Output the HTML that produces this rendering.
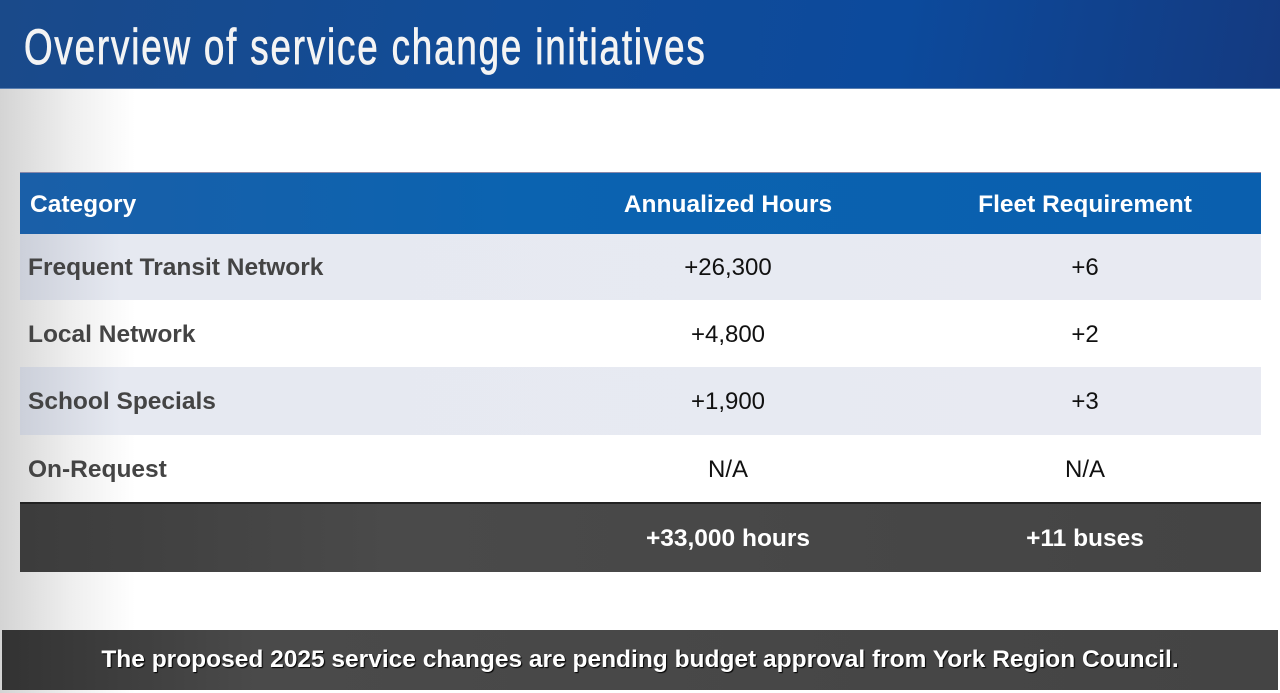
<!DOCTYPE html>
<html><head><style>
body{margin:0;width:1280px;height:693px;overflow:hidden;position:relative;font-family:"Liberation Sans",sans-serif;background:linear-gradient(90deg,#d4d4d4 0,#eee 70px,#fff 135px,#fff 100%);}
.hdr{position:absolute;left:0;top:0;width:1280px;height:88px;background:linear-gradient(100deg,#1a4a8a 0,#114c98 40%,#0c4a9c 70%,#143a80 100%);border-bottom:1px solid #5a7fb0}
.title{position:absolute;left:24px;top:18px;font-size:50px;color:#f4f4f4;white-space:nowrap;transform:scaleX(0.735);transform-origin:left top;letter-spacing:2.5px;-webkit-text-stroke:0.8px #f4f4f4}
.row{position:absolute;left:20px;width:1241px;font-size:24.5px;font-weight:bold}
.row div{position:absolute;top:1px;height:100%;display:flex;align-items:center}
.c1{left:8px}.c2{left:530px;width:356px;justify-content:center}.c3{left:886px;width:358px;justify-content:center}
.th{background:linear-gradient(90deg,#1a5fa8,#0b63b0 40%,#0a5fae);color:#fff;top:172px;height:62px;border-top:1px solid #88a}
.th .c1{left:10px}
.odd{background:linear-gradient(90deg,#ccd0da,#e6e9f1 100px,#e8eaf2);}
.r{color:#444}.r .c2,.r .c3{font-weight:normal;color:#111;font-size:24px}
.tot{background:linear-gradient(90deg,#3c3c3c,#4a4a4a 30%,#444);top:502px;height:68px;color:#fff;border-top:2px solid #222}
.bar{position:absolute;left:2px;top:630px;width:1276px;height:60px;background:linear-gradient(90deg,#333,#4a4a4a 20%,#444);color:#fff;font-weight:bold;font-size:24.5px;display:flex;align-items:center;justify-content:center;text-shadow:1px 1px 1px #000}
</style></head><body>
<div class="hdr"><div class="title">Overview of service change initiatives</div></div>
<div class="row th"><div class="c1">Category</div><div class="c2">Annualized Hours</div><div class="c3">Fleet Requirement</div></div>
<div class="row r odd" style="top:234px;height:66px"><div class="c1">Frequent Transit Network</div><div class="c2">+26,300</div><div class="c3">+6</div></div>
<div class="row r" style="top:300px;height:67px"><div class="c1">Local Network</div><div class="c2">+4,800</div><div class="c3">+2</div></div>
<div class="row r odd" style="top:367px;height:68px"><div class="c1">School Specials</div><div class="c2">+1,900</div><div class="c3">+3</div></div>
<div class="row r" style="top:435px;height:67px"><div class="c1">On-Request</div><div class="c2">N/A</div><div class="c3">N/A</div></div>
<div class="row tot"><div class="c2">+33,000 hours</div><div class="c3">+11 buses</div></div>
<div class="bar">The proposed 2025 service changes are pending budget approval from York Region Council.</div>
</body></html>
